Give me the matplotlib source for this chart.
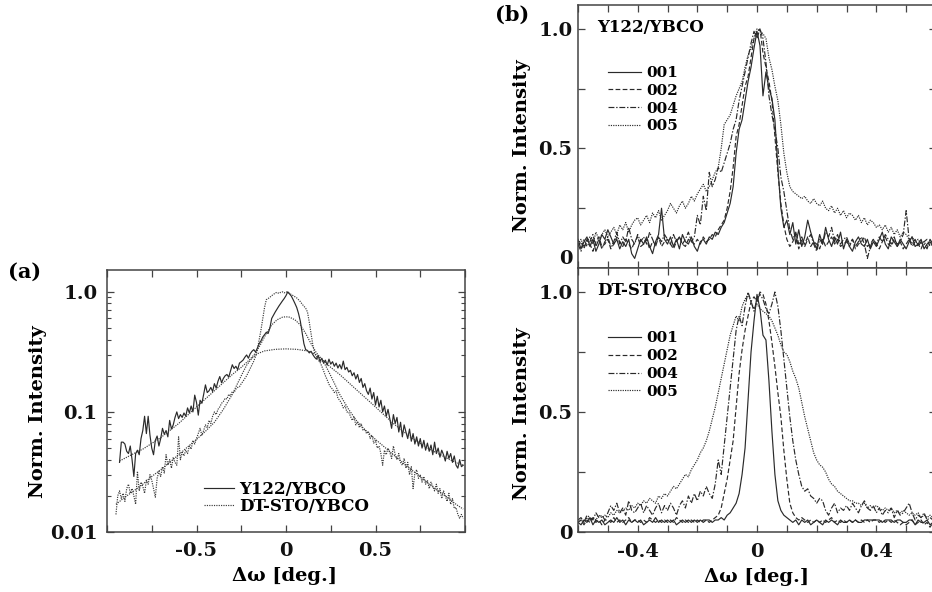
import numpy as np
import matplotlib
matplotlib.use('Agg')
import matplotlib.pyplot as plt

plt.rcParams['font.family'] = ['DejaVu Serif']
plt.rcParams['mathtext.fontset'] = 'dejavuserif'

# ---------------- Panel (a) data ----------------
a_y122_x = np.round(np.arange(-93, 100) * 0.01, 2)
a_y122 = [
    0.038, 0.056, 0.056, 0.054, 0.047, 0.045, 0.052, 0.040, 0.029, 0.045,
    0.048, 0.044, 0.060, 0.070, 0.092, 0.066, 0.092, 0.064, 0.050, 0.044,
    0.058, 0.063, 0.052, 0.060, 0.073, 0.065, 0.070, 0.062, 0.085, 0.072,
    0.078, 0.090, 0.100, 0.088, 0.095, 0.090, 0.098, 0.092, 0.108, 0.098,
    0.112, 0.100, 0.138, 0.120, 0.094, 0.125, 0.118, 0.140, 0.168, 0.145,
    0.150, 0.160, 0.148, 0.172, 0.158, 0.180, 0.197, 0.175, 0.190, 0.200,
    0.205, 0.195, 0.220, 0.247, 0.230, 0.240, 0.225, 0.255, 0.262, 0.270,
    0.285, 0.298, 0.280, 0.305, 0.320, 0.330, 0.315,
    0.34, 0.37, 0.39, 0.42, 0.44, 0.46, 0.45, 0.50, 0.60, 0.64,
    0.68, 0.72, 0.76, 0.80, 0.84, 0.88, 0.93, 1.00, 0.96, 0.92,
    0.86, 0.80, 0.74, 0.66, 0.57, 0.46, 0.37, 0.33, 0.325, 0.31, 0.32, 0.30,
    0.285, 0.275, 0.295, 0.262, 0.280, 0.255, 0.270, 0.245, 0.275, 0.250,
    0.262, 0.240, 0.255, 0.232, 0.248, 0.228, 0.265, 0.225, 0.235, 0.215,
    0.222, 0.200, 0.212, 0.188, 0.205, 0.176, 0.190, 0.160, 0.172, 0.150,
    0.140, 0.158, 0.128, 0.145, 0.114, 0.135, 0.110, 0.125, 0.100, 0.112,
    0.092, 0.105, 0.088, 0.073, 0.095, 0.080, 0.090, 0.068, 0.082, 0.062,
    0.078, 0.068, 0.060, 0.072, 0.057, 0.066, 0.054, 0.062, 0.052, 0.060,
    0.050, 0.058, 0.048, 0.055, 0.047, 0.053, 0.044, 0.056, 0.045, 0.050,
    0.042, 0.048, 0.044, 0.039, 0.047, 0.041, 0.045, 0.038, 0.043, 0.036,
    0.034, 0.040, 0.035, 0.036,
]

a_dt_x = np.round(np.arange(-95, 100) * 0.01, 2)
a_dt = [
    0.014, 0.020, 0.022, 0.019, 0.021, 0.018, 0.023, 0.025, 0.021, 0.023,
    0.020, 0.017, 0.032, 0.022, 0.026, 0.024, 0.021, 0.027, 0.025, 0.030,
    0.027, 0.023, 0.0195, 0.028, 0.032, 0.029, 0.035, 0.031, 0.044, 0.036,
    0.040, 0.034, 0.042, 0.038, 0.036, 0.062, 0.040, 0.046, 0.043, 0.048,
    0.045, 0.052, 0.049, 0.058, 0.054, 0.060, 0.066, 0.073, 0.064, 0.070,
    0.078, 0.074, 0.085, 0.080, 0.092, 0.100, 0.095, 0.105, 0.110, 0.118,
    0.122, 0.130, 0.128, 0.140, 0.136, 0.148, 0.145, 0.155, 0.160, 0.162,
    0.172, 0.180, 0.190, 0.200, 0.215, 0.230, 0.247, 0.265, 0.290, 0.330,
    0.40, 0.48, 0.60, 0.74, 0.86, 0.88, 0.90, 0.93, 0.95, 0.98,
    0.99, 0.97, 0.99, 1.00, 0.98, 1.00, 0.99, 0.97, 0.95, 0.93,
    0.91, 0.89, 0.86, 0.83, 0.79, 0.76, 0.73, 0.68, 0.56, 0.45,
    0.36, 0.31, 0.29, 0.27, 0.26, 0.24, 0.22, 0.20, 0.185, 0.17,
    0.16, 0.155, 0.145, 0.150, 0.130, 0.125, 0.118, 0.108, 0.112, 0.100,
    0.100, 0.092, 0.085, 0.090, 0.078, 0.083, 0.074, 0.080, 0.070, 0.072,
    0.066, 0.069, 0.060, 0.064, 0.055, 0.058, 0.050, 0.052, 0.045, 0.036,
    0.048, 0.044, 0.050, 0.046, 0.041, 0.052, 0.044, 0.040, 0.045, 0.038,
    0.036, 0.041, 0.034, 0.038, 0.030, 0.035, 0.023, 0.031, 0.033, 0.028,
    0.030, 0.026, 0.029, 0.025, 0.027, 0.023, 0.026, 0.024, 0.022, 0.025,
    0.021, 0.023, 0.019, 0.022, 0.020, 0.018, 0.021, 0.017, 0.019, 0.0157,
    0.016, 0.014, 0.013, 0.014, 0.013,
]

# smooth fit curves in (a)
fitA_x = [-0.95, -0.9, -0.85, -0.8, -0.75, -0.7, -0.65, -0.6, -0.55, -0.5, -0.45, -0.4,
          -0.35, -0.3, -0.25, -0.22, -0.19, -0.16, -0.12, -0.06, 0.0, 0.06, 0.12, 0.16,
          0.19, 0.22, 0.25, 0.3, 0.35, 0.4, 0.45, 0.5, 0.55, 0.6, 0.65, 0.7, 0.75, 0.8,
          0.85, 0.9, 0.95, 0.99]
fitA_y = [0.017, 0.0195, 0.022, 0.025, 0.029, 0.033, 0.038, 0.044, 0.051, 0.059, 0.069, 0.082,
          0.105, 0.140, 0.200, 0.245, 0.280, 0.305, 0.322, 0.332, 0.335, 0.332, 0.322, 0.305,
          0.280, 0.245, 0.200, 0.140, 0.105, 0.082, 0.069, 0.059, 0.051, 0.044, 0.038, 0.033,
          0.029, 0.025, 0.022, 0.0195, 0.017, 0.0155]
fitB_x = [-0.93, -0.85, -0.8, -0.7, -0.6, -0.5, -0.4, -0.3, -0.25, -0.2, -0.17, -0.14, -0.11,
          -0.08, -0.05, -0.02, 0.0, 0.02, 0.05, 0.08, 0.11, 0.14, 0.17, 0.2, 0.25, 0.3, 0.4,
          0.5, 0.6, 0.7, 0.8, 0.85, 0.93, 0.99]
fitB_y = [0.039, 0.045, 0.049, 0.061, 0.080, 0.110, 0.150, 0.205, 0.235, 0.275, 0.31, 0.37, 0.45,
          0.53, 0.585, 0.615, 0.62, 0.615, 0.585, 0.53, 0.45, 0.37, 0.31, 0.275, 0.235, 0.205,
          0.150, 0.110, 0.080, 0.061, 0.049, 0.045, 0.039, 0.036]

# ---------------- Panel (b) data ----------------
b_x = np.round(np.arange(-60, 61) * 0.01, 2)
labels_b = ['001', '002', '004', '005']

t001 = [0.12, 0.08, 0.11, 0.13, 0.09, 0.12, 0.07, 0.10, 0.14, 0.12,
        0.16, 0.13, 0.10, 0.12, 0.08, 0.11, 0.09, 0.12, 0.06, 0.04,
        0.08, 0.12, 0.10, 0.13, 0.09, 0.06, 0.11, 0.14, 0.25, 0.12,
        0.10, 0.13, 0.09, 0.12, 0.08, 0.14, 0.11, 0.10, 0.13, 0.09,
        0.07, 0.11, 0.12, 0.10, 0.13, 0.12, 0.15, 0.14, 0.17, 0.19,
        0.23, 0.27, 0.34, 0.48, 0.58, 0.62, 0.70, 0.78, 0.84, 0.92,
        0.99, 0.93, 0.72, 0.82, 0.75, 0.71, 0.62, 0.42, 0.25, 0.17,
        0.20, 0.14, 0.19, 0.10, 0.16, 0.09, 0.13, 0.20, 0.15, 0.11,
        0.08, 0.14, 0.10, 0.17, 0.12, 0.09, 0.13, 0.10, 0.15, 0.08,
        0.12, 0.09, 0.07, 0.11, 0.13, 0.10, 0.09, 0.12, 0.08, 0.11,
        0.09, 0.12, 0.15, 0.10, 0.08, 0.13, 0.11, 0.09, 0.12, 0.10,
        0.08, 0.11, 0.13, 0.09, 0.10, 0.12, 0.08, 0.10, 0.11, 0.09,
        0.10]
t002 = [0.09, 0.11, 0.08, 0.12, 0.10, 0.07, 0.11, 0.13, 0.09, 0.10,
        0.12, 0.08, 0.10, 0.13, 0.11, 0.09, 0.12, 0.10, 0.08, 0.11,
        0.13, 0.09, 0.10, 0.12, 0.08, 0.11, 0.10, 0.13, 0.09, 0.11,
        0.12, 0.10, 0.08, 0.11, 0.13, 0.10, 0.09, 0.12, 0.11, 0.10,
        0.12, 0.10, 0.13, 0.11, 0.12, 0.14, 0.13, 0.16, 0.18, 0.20,
        0.25, 0.32, 0.42, 0.55, 0.60, 0.68, 0.76, 0.80, 0.88, 0.96,
        0.99, 1.00, 0.90, 0.84, 0.78, 0.70, 0.55, 0.40, 0.27, 0.18,
        0.12, 0.09, 0.11, 0.14, 0.08, 0.12, 0.10, 0.13, 0.09, 0.11,
        0.10, 0.08, 0.12, 0.09, 0.11, 0.13, 0.10, 0.12, 0.09, 0.10,
        0.11, 0.09, 0.12, 0.08, 0.10, 0.11, 0.13, 0.09, 0.10, 0.12,
        0.10, 0.08, 0.11, 0.13, 0.10, 0.09, 0.12, 0.10, 0.11, 0.08,
        0.10, 0.12, 0.09, 0.11, 0.10, 0.08, 0.11, 0.12, 0.09, 0.10,
        0.09]
t004 = [0.10, 0.07, 0.12, 0.09, 0.11, 0.14, 0.09, 0.12, 0.08, 0.11,
        0.13, 0.09, 0.11, 0.15, 0.10, 0.13, 0.11, 0.17, 0.12, 0.10,
        0.14, 0.11, 0.13, 0.10, 0.15, 0.12, 0.09, 0.13, 0.11, 0.14,
        0.12, 0.10, 0.14, 0.11, 0.13, 0.10, 0.12, 0.15, 0.11, 0.13,
        0.22, 0.18, 0.30, 0.24, 0.40, 0.34, 0.37, 0.42, 0.40, 0.44,
        0.48, 0.52, 0.58, 0.62, 0.70, 0.76, 0.82, 0.88, 0.94, 0.99,
        0.96, 1.00, 0.96, 0.86, 0.72, 0.64, 0.58, 0.50, 0.38, 0.32,
        0.24, 0.16, 0.12, 0.15, 0.10, 0.13, 0.09, 0.12, 0.14, 0.10,
        0.07, 0.12, 0.10, 0.15, 0.13, 0.17, 0.11, 0.14, 0.10, 0.12,
        0.13, 0.10, 0.12, 0.09, 0.11, 0.13, 0.10, 0.04, 0.09, 0.12,
        0.10, 0.13, 0.11, 0.14, 0.12, 0.10, 0.13, 0.09, 0.11, 0.14,
        0.24, 0.12, 0.10, 0.12, 0.09, 0.11, 0.10, 0.08, 0.12, 0.10,
        0.11]
t005 = [0.10, 0.12, 0.09, 0.11, 0.13, 0.10, 0.15, 0.12, 0.14, 0.16,
        0.13, 0.15, 0.17, 0.14, 0.18, 0.16, 0.19, 0.15, 0.18, 0.20,
        0.21, 0.18, 0.20, 0.22, 0.19, 0.23, 0.21, 0.24, 0.20, 0.22,
        0.24, 0.27, 0.25, 0.23, 0.26, 0.28, 0.25, 0.27, 0.30, 0.28,
        0.31, 0.33, 0.35, 0.32, 0.34, 0.37, 0.40, 0.42, 0.50, 0.60,
        0.62, 0.64, 0.68, 0.72, 0.75, 0.78, 0.84, 0.89, 0.92, 0.96,
        1.00, 0.99, 0.98, 0.96, 0.88, 0.83, 0.76, 0.70, 0.60, 0.48,
        0.40, 0.34, 0.32, 0.31, 0.30, 0.29, 0.30, 0.28, 0.27, 0.29,
        0.27, 0.26, 0.28, 0.25, 0.24, 0.26, 0.23, 0.25, 0.22, 0.24,
        0.21, 0.23, 0.22, 0.20, 0.22, 0.19, 0.21, 0.18, 0.20, 0.19,
        0.17, 0.18, 0.16, 0.18, 0.15, 0.17, 0.14, 0.16, 0.13, 0.15,
        0.14, 0.12, 0.13, 0.11, 0.12, 0.10, 0.11, 0.09, 0.10, 0.11,
        0.10]

d001 = [0.04, 0.03, 0.05, 0.04, 0.06, 0.03, 0.05, 0.04, 0.05, 0.03,
        0.04, 0.05, 0.04, 0.06, 0.04, 0.05, 0.03, 0.05, 0.04, 0.05,
        0.04, 0.05, 0.03, 0.04, 0.05, 0.04, 0.06, 0.04, 0.05, 0.04,
        0.05, 0.04, 0.05, 0.03, 0.04, 0.05, 0.04, 0.05, 0.04, 0.05,
        0.04, 0.05, 0.04, 0.05, 0.05, 0.04, 0.05, 0.05, 0.06, 0.05,
        0.07, 0.08, 0.10, 0.12, 0.16, 0.24, 0.35, 0.55, 0.75, 0.88,
        0.99, 0.93, 0.82, 0.80, 0.63, 0.42, 0.24, 0.13, 0.09, 0.07,
        0.06, 0.05, 0.04, 0.05, 0.03, 0.05, 0.04, 0.05, 0.03, 0.04,
        0.05, 0.04, 0.03, 0.05, 0.04, 0.05, 0.04, 0.03, 0.05, 0.04,
        0.04, 0.05, 0.04, 0.05, 0.04, 0.04, 0.05, 0.05, 0.05, 0.05,
        0.05, 0.05, 0.04, 0.05, 0.05, 0.05, 0.04, 0.05, 0.05, 0.04,
        0.04, 0.05, 0.05, 0.03, 0.05, 0.04, 0.04, 0.05, 0.03, 0.04,
        0.04]
d002 = [0.04, 0.05, 0.03, 0.05, 0.04, 0.06, 0.04, 0.05, 0.03, 0.05,
        0.05, 0.04, 0.06, 0.04, 0.05, 0.04, 0.05, 0.06, 0.04, 0.05,
        0.05, 0.04, 0.05, 0.04, 0.06, 0.05, 0.04, 0.05, 0.04, 0.05,
        0.04, 0.05, 0.04, 0.06, 0.05, 0.04, 0.05, 0.04, 0.05, 0.04,
        0.05, 0.04, 0.05, 0.05, 0.04, 0.05, 0.06, 0.07, 0.10, 0.16,
        0.22, 0.30, 0.38, 0.52, 0.66, 0.76, 0.84, 0.90, 0.96, 0.98,
        0.96, 1.00, 0.99, 0.95, 0.88, 0.79, 0.69, 0.58, 0.48, 0.34,
        0.22, 0.12, 0.08, 0.06, 0.05, 0.06, 0.05, 0.04, 0.05, 0.04,
        0.05, 0.04, 0.05, 0.04, 0.05, 0.06, 0.04, 0.05, 0.04, 0.05,
        0.04, 0.05, 0.04, 0.05, 0.04, 0.05, 0.04, 0.05, 0.04, 0.05,
        0.05, 0.04, 0.05, 0.04, 0.05, 0.04, 0.05, 0.04, 0.03, 0.04,
        0.03, 0.04, 0.05, 0.03, 0.04, 0.05, 0.03, 0.04, 0.02, 0.04,
        0.03]
d004 = [0.05, 0.06, 0.04, 0.07, 0.06, 0.05, 0.08, 0.06, 0.07, 0.05,
        0.08, 0.11, 0.09, 0.12, 0.08, 0.10, 0.07, 0.13, 0.09, 0.08,
        0.10, 0.12, 0.08, 0.11, 0.09, 0.07, 0.10, 0.12, 0.08, 0.11,
        0.09, 0.12, 0.10, 0.07, 0.11, 0.13, 0.10, 0.15, 0.12, 0.16,
        0.13, 0.17, 0.15, 0.19, 0.16, 0.14, 0.20, 0.30, 0.24, 0.36,
        0.48, 0.60, 0.72, 0.84, 0.90, 0.86, 0.94, 1.00, 0.96, 0.92,
        0.97, 0.99, 0.97, 0.93, 0.91, 0.95, 1.00, 0.94, 0.84, 0.72,
        0.60, 0.48, 0.38, 0.30, 0.24, 0.19, 0.17, 0.18, 0.15, 0.14,
        0.12, 0.14, 0.13, 0.09, 0.07, 0.10, 0.12, 0.08, 0.10, 0.09,
        0.11, 0.09, 0.12, 0.10, 0.08, 0.11, 0.13, 0.10, 0.09, 0.11,
        0.08, 0.10, 0.07, 0.09, 0.08, 0.10, 0.06, 0.09, 0.07, 0.08,
        0.10, 0.12, 0.08, 0.05, 0.07, 0.06, 0.08, 0.05, 0.06, 0.05,
        0.06]
d005 = [0.04, 0.05, 0.04, 0.06, 0.05, 0.06, 0.05, 0.07, 0.06, 0.07,
        0.06, 0.08, 0.07, 0.09, 0.08, 0.09, 0.10, 0.09, 0.11, 0.10,
        0.12, 0.11, 0.13, 0.12, 0.14, 0.13, 0.12, 0.15, 0.14, 0.16,
        0.15, 0.17, 0.19, 0.18, 0.20, 0.22, 0.24, 0.23, 0.26, 0.28,
        0.30, 0.33, 0.35, 0.38, 0.42, 0.47, 0.52, 0.58, 0.64, 0.70,
        0.76, 0.82, 0.86, 0.90, 0.88, 0.94, 0.97, 0.99, 0.96, 0.93,
        0.95, 0.93, 0.92, 0.91, 0.90, 0.88, 0.85, 0.82, 0.78, 0.75,
        0.74, 0.71, 0.67, 0.64, 0.60, 0.54, 0.48, 0.43, 0.38, 0.33,
        0.30, 0.28, 0.27, 0.25, 0.22, 0.20, 0.19, 0.17, 0.16, 0.15,
        0.14, 0.13, 0.13, 0.12, 0.12, 0.11, 0.12, 0.10, 0.11, 0.10,
        0.11, 0.10, 0.09, 0.10, 0.09, 0.10, 0.08, 0.09, 0.08, 0.09,
        0.08, 0.07, 0.08, 0.07, 0.08, 0.06, 0.07, 0.06, 0.07, 0.06,
        0.06]

# ---------------- styling ----------------
C_LINE = '#2a2a2a'
C_SPINE = '#444444'
LW = 0.85
styles = {
    '001': '-',
    '002': (0, (4.0, 2.0)),
    '004': (0, (5.0, 1.5, 1.2, 1.5)),
    '005': (0, (1.0, 1.0)),
}
DOT = (0, (1.0, 1.0))

W, H = 932, 592
fig = plt.figure(figsize=(W / 100, H / 100), dpi=100)

def px_axes(left, top, right, bottom):
    return fig.add_axes([left / W, (H - bottom) / H, (right - left) / W, (bottom - top) / H])

axa = px_axes(107, 270, 465, 532)
axb1 = px_axes(578, 5, 936, 268)
axb2 = px_axes(578, 268, 936, 532)

TICK_FS = 14
LAB_FS = 14
TXT_W = 'bold'

def style_axes(ax, pad):
    for s in ax.spines.values():
        s.set_color(C_SPINE)
        s.set_linewidth(1.1)
    ax.tick_params(which='both', direction='in', top=True, right=True,
                   color=C_SPINE, labelsize=TICK_FS, pad=pad, labelcolor='#111111')
    ax.tick_params(which='major', length=5, width=0.9)
    ax.tick_params(which='minor', length=3, width=0.8)
    for t in ax.get_xticklabels() + ax.get_yticklabels():
        t.set_fontweight(TXT_W)

# ---------------- panel (a) ----------------
axa.plot(a_y122_x, a_y122, color=C_LINE, lw=LW, ls='-', label='Y122/YBCO')
axa.plot(a_dt_x, a_dt, color='#3a3a3a', lw=LW, ls=DOT, label='DT-STO/YBCO')
axa.plot(fitA_x, fitA_y, color='#3a3a3a', lw=LW, ls=DOT)
axa.plot(fitB_x, fitB_y, color='#3a3a3a', lw=LW, ls=DOT)
axa.set_yscale('log')
axa.set_xlim(-1.0, 1.0)
axa.set_ylim(0.01, 1.52)
a_xticks = [-1.0, -0.75, -0.5, -0.25, 0.0, 0.25, 0.5, 0.75, 1.0]
a_xticklabels = ['', '', '-0.5', '', '0', '', '0.5', '', '']
axa.set_xticks(a_xticks)
axa.set_xticklabels(a_xticklabels)
a_yticks = [0.01, 0.1, 1.0]
a_yticklabels = ['0.01', '0.1', '1.0']
axa.set_yticks(a_yticks)
axa.set_yticklabels(a_yticklabels)
axa.yaxis.set_minor_locator(matplotlib.ticker.LogLocator(base=10, subs=range(2, 10)))
axa.yaxis.set_minor_formatter(matplotlib.ticker.NullFormatter())
style_axes(axa, 7)
axa.set_ylabel('Norm. Intensity', fontsize=LAB_FS, fontweight=TXT_W)
axa.yaxis.set_label_coords(-0.168, 0.46)
axa.set_xlabel('Δω [deg.]', fontsize=LAB_FS, fontweight=TXT_W)
axa.xaxis.set_label_coords(0.497, -0.135)
leg = axa.legend(loc='upper left', bbox_to_anchor=(0.27, 0.196), frameon=False,
                 handlelength=1.8, handletextpad=0.35, labelspacing=0.0, borderpad=0.0,
                 borderaxespad=0.0, prop={'size': 12, 'weight': 'bold'})
fig.text(8 / W, (H - 272) / H, '(a)', fontsize=15, weight='bold', va='center', ha='left')

# ---------------- panel (b) ----------------
b_xticks = np.round(np.arange(-6, 7) * 0.1, 1)
b_xticklabels = ['', '', '-0.4', '', '', '', '0', '', '', '', '0.4', '', '']
b_yticks = [0.0, 0.25, 0.5, 0.75, 1.0]
b_yticklabels = ['0', '', '0.5', '', '1.0']

top_series = [t001, t002, t004, t005]
bot_series = [d001, d002, d004, d005]

for ax, series, title, lab_y, leg_y in [(axb1, top_series, 'Y122/YBCO', 0.464, 0.768),
                                        (axb2, bot_series, 'DT-STO/YBCO', 0.45, 0.76)]:
    for lab, ys in zip(labels_b, series):
        ax.plot(b_x, ys, color=C_LINE, lw=LW, ls=styles[lab], label=lab)
    ax.set_xlim(-0.6, 0.6)
    ax.set_ylim(0.0, 1.1)
    ax.set_xticks(b_xticks)
    ax.set_yticks(b_yticks)
    ax.set_yticklabels(b_yticklabels)
    ax.set_ylabel('Norm. Intensity', fontsize=LAB_FS, fontweight=TXT_W)
    ax.yaxis.set_label_coords(-0.131, lab_y)
    ax.text(0.053, 0.916, title, transform=ax.transAxes, fontsize=12, weight='bold',
            ha='left', va='center')
    ax.legend(loc='upper left', bbox_to_anchor=(0.085, leg_y), frameon=False,
              handlelength=2.1, handletextpad=0.4, labelspacing=0.25, borderpad=0.0,
              borderaxespad=0.0, prop={'size': 11, 'weight': 'bold'})

axb1.set_xticklabels([''] * len(b_xticks))
axb2.set_xticklabels(b_xticklabels)
for ax in (axb1, axb2):
    style_axes(ax, 4)
    ax.tick_params(axis='x', pad=8)
axb1.get_yticklabels()[0].set_verticalalignment('bottom')
axb2.set_xlabel('Δω [deg.]', fontsize=LAB_FS, fontweight=TXT_W)
axb2.xaxis.set_label_coords(0.5, -0.135)
fig.text(495 / W, (H - 15) / H, '(b)', fontsize=15, weight='bold', va='center', ha='left')

fig.savefig('out.png', dpi=100)
